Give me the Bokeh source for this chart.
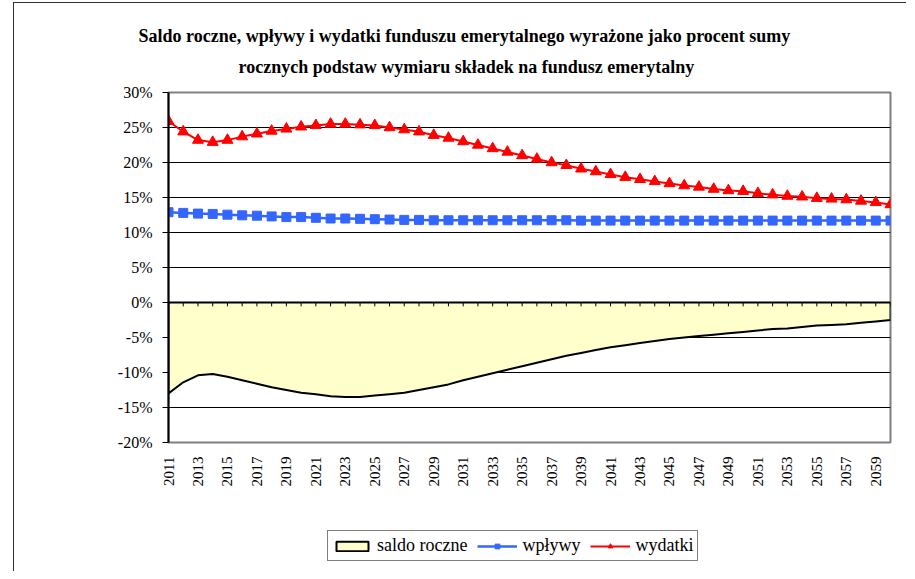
from math import pi
from bokeh.plotting import figure
from bokeh.layouts import column
from bokeh.models import (Range1d, FixedTicker, PrintfTickFormatter, Legend,
                          LegendItem, ColumnDataSource, Title)
from bokeh.embed import file_html
from bokeh.resources import INLINE

years = list(range(2011, 2061))
wydatki = [25.9, 24.4, 23.2, 22.9, 23.2, 23.7, 24.1, 24.5, 24.8, 25.1,
           25.3, 25.5, 25.5, 25.4, 25.3, 25.0, 24.7, 24.4, 23.9, 23.5,
           23.0, 22.5, 22.0, 21.5, 21.0, 20.5, 20.0, 19.6, 19.1, 18.7,
           18.3, 17.9, 17.6, 17.3, 17.0, 16.7, 16.5, 16.2, 16.0, 15.9,
           15.6, 15.4, 15.2, 15.1, 14.9, 14.8, 14.7, 14.5, 14.3, 14.0]
wplywy = [12.9, 12.8, 12.7, 12.65, 12.55, 12.45, 12.4, 12.3, 12.2, 12.2,
          12.1, 12.0, 12.0, 11.95, 11.9, 11.85, 11.8, 11.8, 11.75, 11.75,
          11.75, 11.75, 11.75, 11.75, 11.75, 11.75, 11.75, 11.75, 11.7, 11.7,
          11.7, 11.7, 11.7, 11.7, 11.7, 11.7, 11.7, 11.7, 11.7, 11.7,
          11.7, 11.7, 11.7, 11.7, 11.7, 11.7, 11.7, 11.7, 11.7, 11.7]
saldo = [-13.0, -11.4, -10.4, -10.2, -10.6, -11.1, -11.6, -12.1, -12.5, -12.9,
         -13.1, -13.4, -13.5, -13.5, -13.3, -13.1, -12.9, -12.5, -12.1, -11.7,
         -11.1, -10.6, -10.1, -9.6, -9.1, -8.6, -8.1, -7.6, -7.2, -6.8,
         -6.4, -6.1, -5.8, -5.5, -5.2, -5.0, -4.8, -4.6, -4.4, -4.2,
         -4.0, -3.8, -3.7, -3.5, -3.3, -3.2, -3.1, -2.9, -2.7, -2.5]
y_ticks = [-20, -15, -10, -5, 0, 5, 10, 15, 20, 25, 30]
x_tick_labels = years[::2]
title_lines = ["Saldo roczne, wpływy i wydatki funduszu emerytalnego wyrażone jako procent sumy",
               "rocznych podstaw wymiaru składek na fundusz emerytalny"]
series_names = ["saldo roczne", "wpływy", "wydatki"]

FONT = "Liberation Serif"
YELLOW, BLUE, RED = "#FFFFCC", "#3366FF", "#FF0000"

p = figure(width=892, height=493, output_backend="svg", toolbar_location=None,
           x_range=Range1d(years[0], years[-1]), y_range=Range1d(-20, 30),
           min_border_left=154, min_border_right=16, min_border_top=89,
           min_border_bottom=54)
p.background_fill_color = "white"
p.border_fill_color = "white"
p.outline_line_color = "#808080"
p.outline_line_width = 2

# grid
p.xgrid.grid_line_color = None
p.ygrid.ticker = FixedTicker(ticks=y_ticks)
p.ygrid.grid_line_color = "#000000"
p.ygrid.grid_line_width = 1

# axes
p.yaxis.ticker = FixedTicker(ticks=y_ticks)
p.yaxis.formatter = PrintfTickFormatter(format="%d%%")
p.yaxis.axis_line_color = "black"
p.yaxis.axis_line_width = 2
p.yaxis.major_tick_out = 6
p.yaxis.major_tick_in = 0
p.yaxis.major_tick_line_color = "black"
p.yaxis.minor_tick_line_color = None
p.yaxis.major_label_standoff = 10
p.yaxis.major_label_text_font = FONT
p.yaxis.major_label_text_font_size = "16px"
p.yaxis.major_label_text_color = "black"

p.xaxis.ticker = FixedTicker(ticks=x_tick_labels)
p.xaxis.axis_line_color = None
p.xaxis.major_tick_line_color = None
p.xaxis.minor_tick_line_color = None
p.xaxis.major_label_orientation = pi / 2
p.xaxis.major_label_standoff = 8
p.xaxis.major_label_text_font = FONT
p.xaxis.major_label_text_font_size = "15px"
p.xaxis.major_label_text_color = "black"

src = ColumnDataSource(dict(year=years, wyd=wydatki, wpl=wplywy, sal=saldo,
                            zero=[0] * len(years), tick=[-0.55] * len(years)))

# saldo area
p.patch(x=years + years[::-1], y=saldo + [0] * len(years),
        fill_color=YELLOW, line_color="black", line_width=2)
p.segment(x0="year", y0="zero", x1="year", y1="tick", source=src,
          line_color="black", line_width=1)

# wplywy
p.line("year", "wpl", source=src, line_color=BLUE, line_width=2.5)
p.scatter("year", "wpl", source=src, marker="square", size=9,
          fill_color=BLUE, line_color=BLUE)
# wydatki
p.line("year", "wyd", source=src, line_color=RED, line_width=2)
p.scatter("year", "wyd", source=src, marker="triangle", size=11,
          fill_color=RED, line_color=RED)

# titles (line 2 first: nearest to the plot)
p.add_layout(Title(text=title_lines[1], align="left", offset=70, text_font=FONT,
                   text_font_style="bold", text_font_size="18px",
                   text_color="black", standoff=32), "above")
p.add_layout(Title(text=title_lines[0], align="left", offset=-30, text_font=FONT,
                   text_font_style="bold", text_font_size="18px",
                   text_color="black", standoff=-15), "above")

# legend figure below the chart
q = figure(width=892, height=75, output_backend="svg", toolbar_location=None,
           x_range=Range1d(0, 1), y_range=Range1d(0, 1),
           x_axis_type=None, y_axis_type=None, min_border=0)
q.outline_line_color = None
q.grid.grid_line_color = None
qsrc = ColumnDataSource(dict(year=years, wyd=wydatki, wpl=wplywy))
ra = q.patch(x=years + years[::-1], y=saldo + [0] * len(years),
             fill_color=YELLOW, line_color="black", line_width=2)
rbl = q.line("year", "wpl", source=qsrc, line_color=BLUE, line_width=2.5)
rbs = q.scatter("year", "wpl", source=qsrc, marker="square", size=9,
                fill_color=BLUE, line_color=BLUE)
rrl = q.line("year", "wyd", source=qsrc, line_color=RED, line_width=2)
rrs = q.scatter("year", "wyd", source=qsrc, marker="triangle", size=11,
                fill_color=RED, line_color=RED)

legend = Legend(items=[LegendItem(label=series_names[0], renderers=[ra]),
                       LegendItem(label=series_names[1], renderers=[rbl, rbs]),
                       LegendItem(label=series_names[2], renderers=[rrl, rrs])],
                orientation="horizontal", location=(159, 10))
legend.label_text_font = FONT
legend.label_text_font_size = "18px"
legend.label_text_color = "black"
legend.glyph_width = 40
legend.glyph_height = 12
legend.label_standoff = 5
legend.spacing = 10
legend.padding = 4
legend.margin = 0
legend.border_line_color = "black"
legend.border_line_width = 1
legend.background_fill_alpha = 1
q.add_layout(legend, "center")

layout = column(p, q, spacing=0,
                styles={"margin-left": "13px", "margin-top": "2px",
                        "border-left": "1.5px solid #333333",
                        "border-top": "1.5px solid #333333"})

open("out.html", "w").write(file_html(layout, INLINE))
